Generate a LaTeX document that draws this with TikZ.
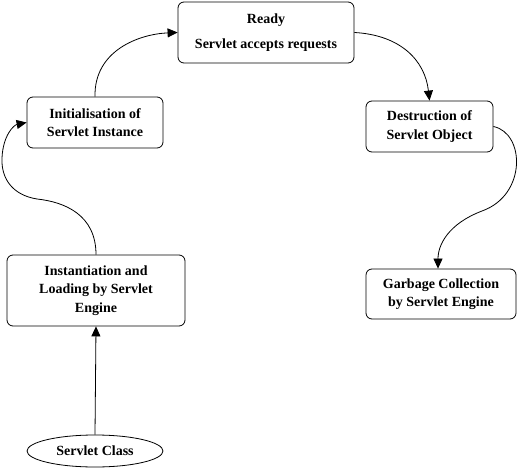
\documentclass[tikz,border=0pt]{standalone}
\usepackage{fontspec}
\setmainfont{Liberation Serif}
\usetikzlibrary{arrows.meta,shapes.geometric}
\begin{document}
\begin{tikzpicture}[x=1bp,y=-1bp,
  lbl/.style={font=\fontsize{14bp}{18.5bp}\selectfont\bfseries},
  box/.style={lbl,draw,rounded corners=6bp,line width=0.8bp,align=center,inner sep=0pt},
  oval/.style={lbl,draw,ellipse,line width=0.8bp,inner sep=0pt},
  conn/.style={line width=0.8bp,-{Triangle[length=10bp,width=9bp]}}]
\useasboundingbox[fill=white] (0,0) rectangle (525,475);
\node[box,minimum width=176bp,minimum height=61bp] (ready) at (266,32.5) {Ready\\[6.5bp]Servlet accepts requests};
\node[box,minimum width=136bp,minimum height=51bp] (init) at (95,122.5) {Initialisation of\\Servlet Instance};
\node[box,minimum width=127bp,minimum height=51bp] (dest) at (429.5,126.5) {Destruction of\\Servlet Object};
\node[box,minimum width=178bp,minimum height=71bp] (inst) at (96,290.5) {Instantiation and\\Loading by Servlet\\Engine};
\node[box,minimum width=150bp,minimum height=50bp] (gc) at (441,294) {Garbage Collection\\by Servlet Engine};
\node[oval,minimum width=136bp,minimum height=32bp] (cls) at (95,451) {Servlet Class};
\coordinate (s1) at (37,199);
\coordinate (s2) at (2,158);
\coordinate (s3) at (482,211);
\draw[conn] (cls.north) -- (inst.south);
\draw[conn] (inst.north) .. controls (96,215) and (65,202) .. (s1)
  .. controls (12,195) and (1,178) .. (s2)
  .. controls (3,135) and (14,125) .. (init.west);
\draw[conn] (init.north) .. controls (94,50) and (140,34) .. (ready.west);
\draw[conn] (ready.east) .. controls (400,35) and (425,60) .. (dest.north);
\draw[conn] (dest.east) .. controls (525,133) and (527,195) .. (s3)
  .. controls (448,224) and (438,245) .. ([xshift=-3bp]gc.north);
\end{tikzpicture}
\end{document}
